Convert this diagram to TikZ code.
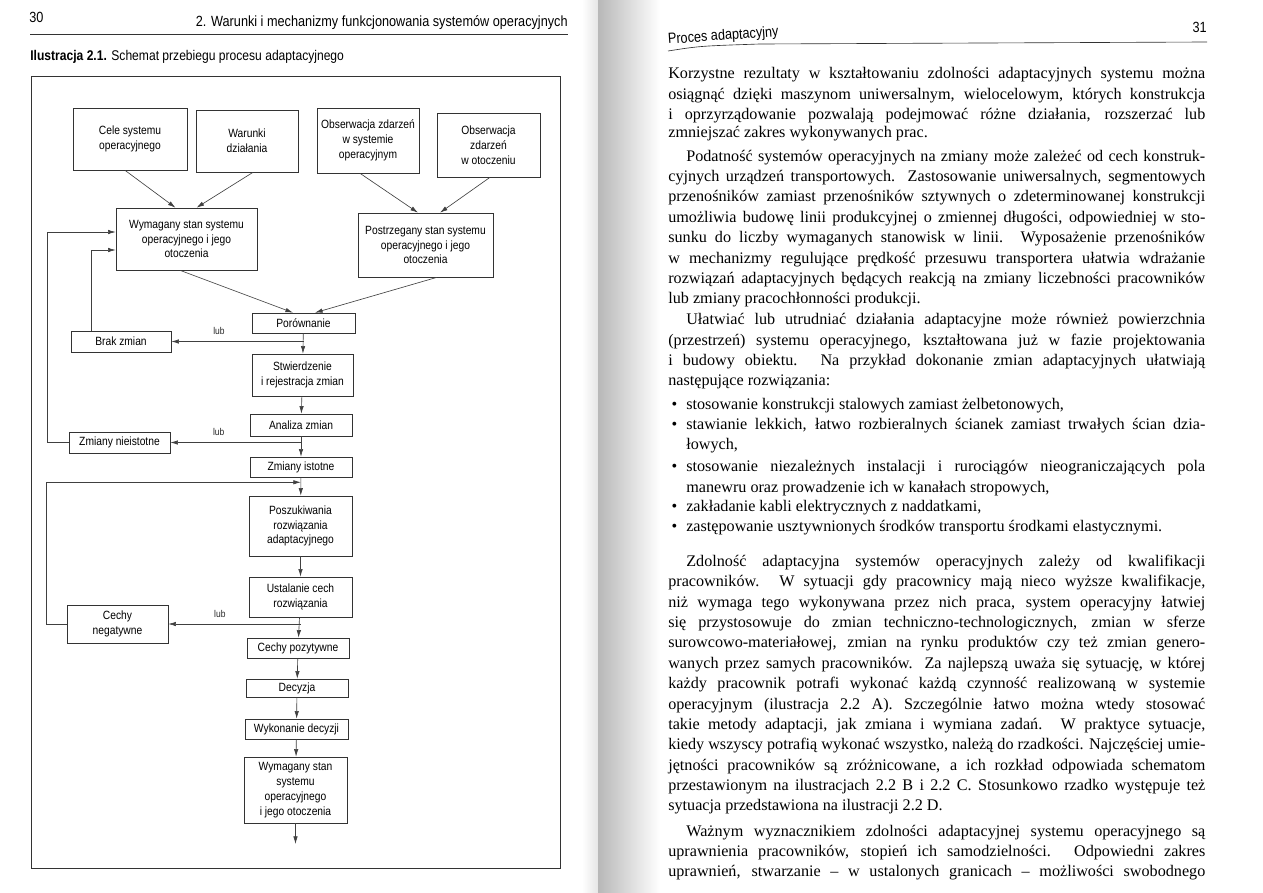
\documentclass[tikz,border=0pt]{standalone}
\usepackage{fontspec}
\usepackage{graphicx}
\setmainfont{Liberation Serif}
\newfontfamily\chartfont{Liberation Sans}[FakeStretch=0.86]
\usetikzlibrary{arrows.meta,calc}

% one justified line of the book page
\newlength\textw \setlength\textw{134.25mm}
\newsavebox\linebox
\newcommand\jl[1]{\sbox\linebox{#1}%
  \ifdim\wd\linebox>\textw
    \pgfmathsetmacro\squeeze{\the\textw/\the\wd\linebox}%
    \scalebox{\squeeze}[1]{\usebox\linebox}%
  \else\hbox to\textw{#1}\fi}
\newcommand\ind{\hspace*{4.5mm}}
\newcommand\bul{\makebox[4.5mm][l]{\hspace{0.8mm}\textbullet}}

\begin{document}
\begin{tikzpicture}[
  x=0.25mm, y=-0.25mm,
  >={Latex[length=1.9mm,width=1.1mm]},
  line width=0.45pt,
  box/.style={draw=black!80, fill=white, align=center, inner sep=0pt, font=\chartfont\fontsize{8.5}{10.5}\selectfont},
  link/.style={->, draw=black!75},
  lub/.style={font=\chartfont\fontsize{7}{8}\selectfont, above=0.4mm, text=black!85},
  head/.style={inner sep=0pt, font=\chartfont\fontsize{10.5}{12}\selectfont},
  body/.style={anchor=base west, inner sep=0pt, font=\fontsize{11.5}{14.5}\selectfont}
]
\useasboundingbox (0,0) rectangle (1263,893);
\fill[white] (0,0) rectangle (1263,893);

% gutter shadow
\shade[left color=white, right color=black!10] (582,0) rectangle (598,893);
\shade[left color=black!28, right color=white] (598,0) rectangle (660,893);

% left page head
\node[head, anchor=base west] (pnum) at (29,23) {30};
\node[head, anchor=base east] (chapter) at (568,27) {2. Warunki i mechanizmy funkcjonowania systemów operacyjnych};
\draw[black!80] (30,34) -- (568,34);
\node[head, anchor=base west, font=\chartfont\fontsize{10}{12}\selectfont] (caption) at (30,61)
  {\textbf{Ilustracja 2.1.} Schemat przebiegu procesu adaptacyjnego};

\draw[black!80] (31,76) rectangle (560,868);

% inputs
\node[box, minimum width=28.5mm, minimum height=15.5mm] (cele) at (130,139) {Cele systemu\\operacyjnego};
\node[box, minimum width=25.5mm, minimum height=15.5mm] (warunki) at (247,141) {Warunki\\działania};
\node[box, minimum width=25.5mm, minimum height=16.25mm] (obsSys) at (368,140.5) {Obserwacja zdarzeń\\w systemie\\operacyjnym};
\node[box, minimum width=25.75mm, minimum height=16mm] (obsOt) at (488.5,145) {Obserwacja\\zdarzeń\\w otoczeniu};

\node[box, minimum width=35.25mm, minimum height=15.5mm] (wymagany) at (186.5,239) {Wymagany stan systemu\\operacyjnego i jego\\otoczenia};
\node[box, minimum width=33.75mm, minimum height=16mm] (postrzegany) at (425.5,245) {Postrzegany stan systemu\\operacyjnego i jego\\otoczenia};

\draw[link] ($(cele.south)+(-5,0)$) -- ($(wymagany.north)+(-11,0)$);
\draw[link] ($(warunki.south)+(6,0)$) -- ($(wymagany.north)+(10,0)$);
\draw[link] ($(obsSys.south)+(-8,0)$) -- ($(postrzegany.north)+(-7.5,0)$);
\draw[link] ($(obsOt.south)+(1.5,0)$) -- ($(postrzegany.north)+(14.5,0)$);

% main column
\node[box, minimum width=25.75mm, minimum height=5mm] (porownanie) at (303.5,323) {Porównanie};
\node[box, minimum width=25.25mm, minimum height=10.5mm] (stwierdzenie) at (302.5,375) {Stwierdzenie\\i rejestracja zmian};
\node[box, minimum width=25.5mm, minimum height=5.5mm] (analiza) at (301,425) {Analiza zmian};
\node[box, minimum width=25.5mm, minimum height=5mm] (istotne) at (301,467) {Zmiany istotne};
\node[box, minimum width=25.75mm, minimum height=15mm] (poszukiwania) at (300.5,526) {Poszukiwania\\rozwiązania\\adaptacyjnego};
\node[box, minimum width=25.75mm, minimum height=10mm] (ustalanie) at (300.5,597) {Ustalanie cech\\rozwiązania};
\node[box, minimum width=25.5mm, minimum height=5mm] (pozytywne) at (298,648) {Cechy pozytywne};
\node[box, minimum width=25.5mm, minimum height=4.5mm] (decyzja) at (297,688) {Decyzja};
\node[box, minimum width=25.75mm, minimum height=5mm] (wykonanie) at (296.5,729) {Wykonanie decyzji};
\node[box, minimum width=25.75mm, minimum height=16.5mm] (wymaganyNowy) at (295.5,790) {Wymagany stan\\systemu\\operacyjnego\\i jego otoczenia};
\coordinate (out) at (295.5,844);

% side outcomes
\node[box, minimum width=25mm, minimum height=5.25mm] (brak) at (121,341.5) {Brak zmian};
\node[box, minimum width=25.25mm, minimum height=5.25mm] (nieistotne) at (119.5,442.5) {Zmiany nieistotne};
\node[box, minimum width=25.25mm, minimum height=9.5mm] (negatywne) at (117.5,624) {Cechy\\negatywne};

\draw[link] ($(wymagany.south)+(-6.5,0)$) -- ($(porownanie.north)+(-10.5,0)$);
\draw[link] ($(postrzegany.south)+(11.5,0)$) -- ($(porownanie.north)+(11.5,0)$);

\draw[link] (porownanie) -- (stwierdzenie);
\draw[link] (stwierdzenie) -- (analiza);
\draw[link] (analiza) -- (istotne);
\draw[link] (istotne) -- (poszukiwania);
\draw[link] (poszukiwania) -- (ustalanie);
\draw[link] (ustalanie) -- (pozytywne);
\draw[link] (pozytywne) -- (decyzja);
\draw[link] (decyzja) -- (wykonanie);
\draw[link] (wykonanie) -- (wymaganyNowy);
\draw[link] (wymaganyNowy) -- (out);

\draw[link] (porownanie.south |- brak.east) -- node[lub, pos=0.64] {lub} (brak.east);
\draw[link] (analiza.south |- nieistotne.east) -- node[lub, pos=0.63] {lub} (nieistotne.east);
\draw[link] (ustalanie.south |- negatywne.east) -- node[lub, pos=0.61] {lub} (negatywne.east);

% feedback loops
\draw[link] ($(brak.north west)+(21,0)$) |- ($(wymagany.west)+(0,11)$);
\draw[link] (nieistotne.west) -- ++(-21,0) |- ($(wymagany.west)+(0,-7)$);
\coordinate (merge) at ($(istotne.south)!0.27!(poszukiwania.north)$);
\draw[link] (negatywne.west) -- ++(-20,0) |- (merge);

% right page
\node[head, anchor=base west, rotate=4] (runhead) at (668,44) {Proces adaptacyjny};
\node[head, anchor=base east] (pnumR) at (1207,33) {31};
\draw[black!80] (668,51) .. controls (700,46) .. (760,44) -- (1207,42);

\foreach \yy/\txt [count=\i] in {
  79/{\jl{Korzystne rezultaty w kształtowaniu zdolności adaptacyjnych systemu można}},
  99/{\jl{osiągnąć dzięki maszynom uniwersalnym, wielocelowym, których konstrukcja}},
  119/{\jl{i oprzyrządowanie pozwalają podejmować różne działania, rozszerzać lub}},
  138/{zmniejszać zakres wykonywanych prac.},
  161/{\jl{\ind Podatność systemów operacyjnych na zmiany może zależeć od cech konstruk-}},
  181/{\jl{cyjnych urządzeń transportowych. Zastosowanie uniwersalnych, segmentowych}},
  201/{\jl{przenośników zamiast przenośników sztywnych o zdeterminowanej konstrukcji}},
  222/{\jl{umożliwia budowę linii produkcyjnej o zmiennej długości, odpowiedniej w sto-}},
  242/{\jl{sunku do liczby wymaganych stanowisk w linii. Wyposażenie przenośników}},
  263/{\jl{w mechanizmy regulujące prędkość przesuwu transportera ułatwia wdrażanie}},
  283/{\jl{rozwiązań adaptacyjnych będących reakcją na zmiany liczebności pracowników}},
  303/{lub zmiany pracochłonności produkcji.},
  324/{\jl{\ind Ułatwiać lub utrudniać działania adaptacyjne może również powierzchnia}},
  345/{\jl{(przestrzeń) systemu operacyjnego, kształtowana już w fazie projektowania}},
  365/{\jl{i budowy obiektu. Na przykład dokonanie zmian adaptacyjnych ułatwiają}},
  385/{następujące rozwiązania:},
  409/{\bul stosowanie konstrukcji stalowych zamiast żelbetonowych,},
  429/{\jl{\bul stawianie lekkich, łatwo rozbieralnych ścianek zamiast trwałych ścian dzia-}},
  449/{\ind łowych,},
  471/{\jl{\bul stosowanie niezależnych instalacji i rurociągów nieograniczających pola}},
  492/{\ind manewru oraz prowadzenie ich w kanałach stropowych,},
  511/{\bul zakładanie kabli elektrycznych z naddatkami,},
  531/{\bul zastępowanie usztywnionych środków transportu środkami elastycznymi.},
  566/{\jl{\ind Zdolność adaptacyjna systemów operacyjnych zależy od kwalifikacji}},
  586/{\jl{pracowników. W sytuacji gdy pracownicy mają nieco wyższe kwalifikacje,}},
  607/{\jl{niż wymaga tego wykonywana przez nich praca, system operacyjny łatwiej}},
  627/{\jl{się przystosowuje do zmian techniczno-technologicznych, zmian w sferze}},
  647/{\jl{surowcowo-materiałowej, zmian na rynku produktów czy też zmian genero-}},
  668/{\jl{wanych przez samych pracowników. Za najlepszą uważa się sytuację, w której}},
  688/{\jl{każdy pracownik potrafi wykonać każdą czynność realizowaną w systemie}},
  709/{\jl{operacyjnym (ilustracja 2.2 A). Szczególnie łatwo można wtedy stosować}},
  729/{\jl{takie metody adaptacji, jak zmiana i wymiana zadań. W praktyce sytuacje,}},
  749/{\jl{kiedy wszyscy potrafią wykonać wszystko, należą do rzadkości. Najczęściej umie-}},
  770/{\jl{jętności pracowników są zróżnicowane, a ich rozkład odpowiada schematom}},
  790/{\jl{przestawionym na ilustracjach 2.2 B i 2.2 C. Stosunkowo rzadko występuje też}},
  810/{sytuacja przedstawiona na ilustracji 2.2 D.},
  836/{\jl{\ind Ważnym wyznacznikiem zdolności adaptacyjnej systemu operacyjnego są}},
  856/{\jl{uprawnienia pracowników, stopień ich samodzielności. Odpowiedni zakres}},
  876/{\jl{uprawnień, stwarzanie – w ustalonych granicach – możliwości swobodnego}}%
}
  \node[body] (r\i) at (668,\yy) {\txt};

\end{tikzpicture}
\end{document}
